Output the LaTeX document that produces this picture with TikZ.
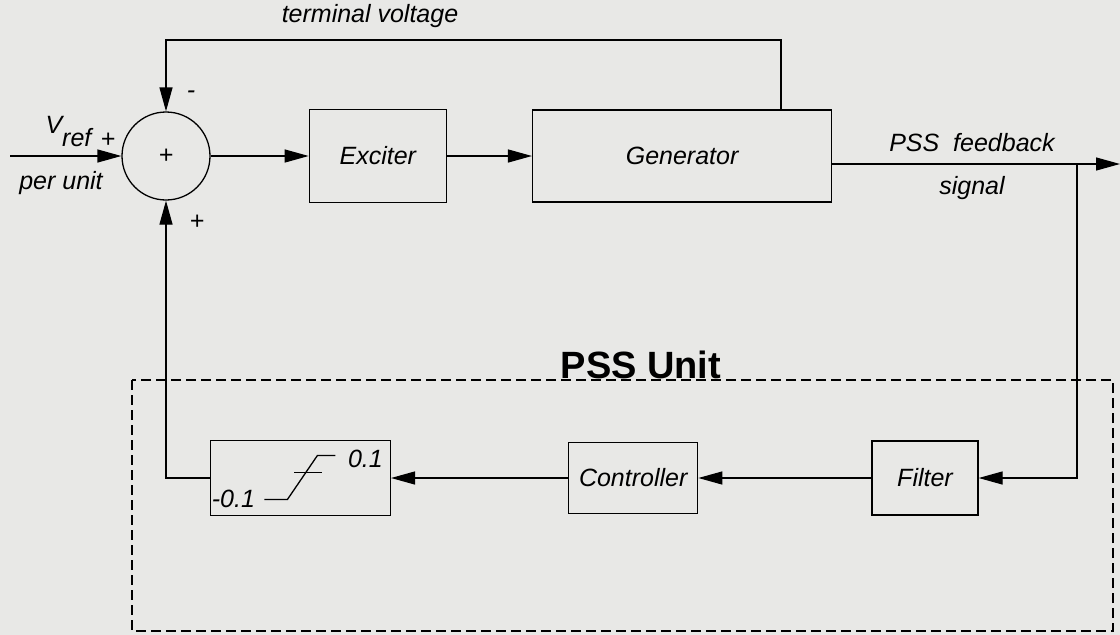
\documentclass[tikz,border=0pt]{standalone}
\usepackage{fontspec}
\setmainfont{Liberation Sans}
\usepackage{xcolor}
\usetikzlibrary{arrows.meta,positioning}
\definecolor{paper}{RGB}{232,232,230}

\begin{document}
\begin{tikzpicture}[
  x=1pt, y=-1pt,
  every node/.style={font=\fontsize{25}{30}\selectfont\itshape},
  box/.style={draw, line width=1.3pt, inner sep=0pt},
  sumnode/.style={draw, circle, line width=1.3pt, minimum size=88pt, inner sep=0pt},
  arrow/.style={-{Triangle[length=24pt,width=13pt]}, line width=1.3pt},
  line/.style={line width=1.3pt},
  unit/.style={draw, dash pattern=on 10pt off 5pt, line width=1.1pt}
]
\fill[paper] (0,0) rectangle (1120,635);
\useasboundingbox (0,0) rectangle (1120,635);

\node[sumnode] (sum) at (166,156) {+};
\node[box, minimum width=137pt, minimum height=93pt, right=98pt of sum] (exciter) {Exciter};
\node[box, minimum width=299pt, minimum height=92pt, right=85pt of exciter] (gen) {Generator};
\node[box, minimum width=106pt, minimum height=74pt] (filter) at (925,478) {Filter};
\node[box, minimum width=129pt, minimum height=71pt, left=173pt of filter] (ctrl) {Controller};
\node[box, minimum width=180pt, minimum height=75pt, left=177pt of ctrl] (limit) {};

\coordinate (in) at (10,156);
\coordinate (tv) at (781,40);
\coordinate (tap) at (1077,164);
\coordinate (out) at (1120,164);

\draw[arrow] (in) -- (sum.west);
\draw[arrow] (sum.east) -- (exciter.west);
\draw[arrow] (exciter.east) -- (gen.west);
\draw[arrow] (gen.north -| tv) -- (tv) -| (sum.north);
\draw[arrow] ([yshift=-8pt]gen.east) -- (out);
\draw[arrow] (tap) |- (filter.east);
\draw[arrow] (filter.west) -- (ctrl.east);
\draw[arrow] (ctrl.west) -- (limit.east);
\draw[arrow] (limit.west) -| (sum.south);

\node (tvlabel) at (370,16) {terminal voltage};
\node[anchor=base west] (vref) at (42,133) {V\raisebox{-13pt}{ref}};
\node (vplus) at (108,140) {+};
\node (perunit) at (61,183) {per unit};
\node (minus) at (191,95) {-};
\node (plus) at (197,222) {+};
\node (fbtop) at (972,143) {PSS\ \ feedback};
\node (fbbot) at (972,188) {signal};

\draw[unit] (132,380) rectangle (1113,631);
\node[anchor=base, font=\fontsize{38}{44}\selectfont\bfseries] (title) at (641,378) {PSS Unit};

\begin{scope}[shift={(limit.center)}]
\draw[line] (-36,21.5) -- (-13,21.5) -- (17,-22.5) -- (35,-22.5);
\draw[line] (-6,-5.5) -- (22,-5.5);
\node (hi) at (65,-19.5) {0.1};
\node (lo) at (-67,20.5) {-0.1};
\end{scope}
\end{tikzpicture}
\end{document}
